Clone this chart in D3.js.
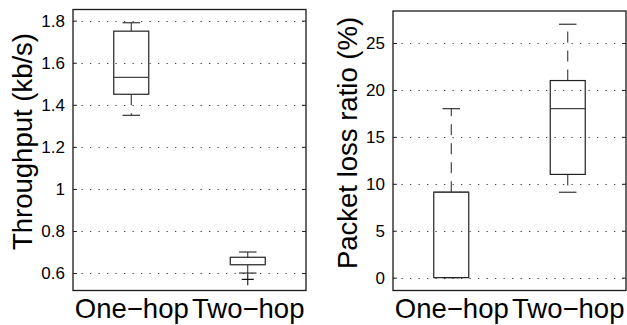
<!DOCTYPE html>
<html><head><meta charset="utf-8">
<script src="https://cdn.jsdelivr.net/npm/d3@7"></script>
<style>
html,body{margin:0;padding:0;background:#fff;}
svg{display:block;font-family:"Liberation Sans",Arial,Helvetica,sans-serif;}
</style></head>
<body>
<svg id="chart" width="627" height="325"></svg>
<script>
// ---- data ----
const categories = ["One\u2212hop", "Two\u2212hop"];

const thrTicks = [0.6, 0.8, 1, 1.2, 1.4, 1.6, 1.8];
const thrLow = [1.35, 0.60];
const thrQ1 = [1.45, 0.64];
const thrMed = [1.53, 0.64];
const thrQ3 = [1.75, 0.675];
const thrHigh = [1.79, 0.70];
const thrOutliers = [[], [0.57]];

const lossTicks = [0, 5, 10, 15, 20, 25];
const lossLow = [0, 9.1];
const lossQ1 = [0, 11];
const lossMed = [9.1, 18];
const lossQ3 = [9.1, 21];
const lossHigh = [18, 27];
const lossOutliers = [[], []];

const svg = d3.select("#chart");

function panel(opt) {
  const g = svg.append("g");
  const x = d3.scalePoint().domain(categories).range([opt.x0, opt.x1]).padding(0.5);
  const y = d3.scaleLinear().domain(opt.domain).range([opt.y1, opt.y0]);

  // grid (dotted)
  g.append("g").selectAll("line").data(opt.ticks).join("line")
    .attr("x1", opt.x0).attr("x2", opt.x1)
    .attr("y1", d => Math.round(y(d)) + 0.5).attr("y2", d => Math.round(y(d)) + 0.5)
    .attr("stroke", "#444").attr("stroke-width", 1)
    .attr("stroke-dasharray", "1.3,7.2");

  // y axis (left, inward ticks)
  const yAxis = d3.axisLeft(y).tickValues(opt.ticks).tickSizeInner(-4).tickSizeOuter(0).tickPadding(8)
    .tickFormat(d => String(+d.toFixed(1)));
  const ya = g.append("g").attr("transform", `translate(${opt.x0},0)`).call(yAxis);
  ya.select(".domain").remove();
  ya.selectAll("line").attr("stroke", "#222");
  ya.selectAll("text").attr("font-size", 17).attr("fill", "#000").attr("font-family", "Liberation Sans, Arial, sans-serif");

  // right inward ticks
  const yAxisR = d3.axisRight(y).tickValues(opt.ticks).tickSizeInner(-4).tickSizeOuter(0).tickFormat("");
  const yr = g.append("g").attr("transform", `translate(${opt.x1},0)`).call(yAxisR);
  yr.select(".domain").remove();
  yr.selectAll("line").attr("stroke", "#222");

  // x axis labels
  const xAxis = d3.axisBottom(x).tickSize(0).tickPadding(8);
  const xa = g.append("g").attr("transform", `translate(0,${opt.y1})`).call(xAxis);
  xa.select(".domain").remove();
  xa.selectAll("text").attr("font-size", 27.5).attr("fill", "#000").attr("dy", "0.71em")
    .attr("font-family", "Liberation Sans, Arial, sans-serif");

  // frame
  g.append("rect").attr("x", opt.x0).attr("y", opt.y0)
    .attr("width", opt.x1 - opt.x0).attr("height", opt.y1 - opt.y0)
    .attr("fill", "none").attr("stroke", "#1a1a1a").attr("stroke-width", 1.3);

  // y title
  g.append("text")
    .attr("transform", `translate(${opt.titleX},${opt.titleY}) rotate(-90)`)
    .attr("text-anchor", "middle").attr("font-size", 27.5).attr("fill", "#000")
    .text(opt.title);

  // boxes
  const bw = 35, cw = 17.5;
  categories.forEach((c, i) => {
    const cx = x(c);
    const bg = g.append("g");
    // whiskers (dashed)
    bg.append("line").attr("x1", cx).attr("x2", cx)
      .attr("y1", y(opt.q3[i])).attr("y2", y(opt.high[i]))
      .attr("stroke", "#222").attr("stroke-width", 1).attr("stroke-dasharray", "11,8");
    bg.append("line").attr("x1", cx).attr("x2", cx)
      .attr("y1", y(opt.q1[i])).attr("y2", y(opt.low[i]))
      .attr("stroke", "#222").attr("stroke-width", 1).attr("stroke-dasharray", "11,8");
    // caps
    [opt.high[i], opt.low[i]].forEach(v => {
      bg.append("line").attr("x1", cx - cw / 2).attr("x2", cx + cw / 2)
        .attr("y1", y(v)).attr("y2", y(v))
        .attr("stroke", "#222").attr("stroke-width", 1.1);
    });
    // box
    bg.append("rect").attr("x", cx - bw / 2).attr("y", y(opt.q3[i]))
      .attr("width", bw).attr("height", Math.max(0.01, y(opt.q1[i]) - y(opt.q3[i])))
      .attr("fill", "none").attr("stroke", "#222").attr("stroke-width", 1.2);
    // median
    bg.append("line").attr("x1", cx - bw / 2).attr("x2", cx + bw / 2)
      .attr("y1", y(opt.med[i])).attr("y2", y(opt.med[i]))
      .attr("stroke", "#444").attr("stroke-width", 1.3);
    // outliers (+)
    opt.outliers[i].forEach(v => {
      const py = y(v);
      bg.append("path").attr("d", `M${cx - 6},${py}H${cx + 6}M${cx},${py - 6}V${py + 6}`)
        .attr("stroke", "#111").attr("stroke-width", 1.1).attr("fill", "none");
    });
  });
}

panel({
  x0: 73, x1: 306, y0: 9.5, y1: 290.5,
  domain: [0.517, 1.853], ticks: thrTicks,
  low: thrLow, q1: thrQ1, med: thrMed, q3: thrQ3, high: thrHigh, outliers: thrOutliers,
  title: "Throughput (kb/s)", titleX: 32, titleY: 141.5
});

panel({
  x0: 393, x1: 626, y0: 11, y1: 290.5,
  domain: [-1.37, 28.41], ticks: lossTicks,
  low: lossLow, q1: lossQ1, med: lossMed, q3: lossQ3, high: lossHigh, outliers: lossOutliers,
  title: "Packet loss ratio (%)", titleX: 357, titleY: 143
});
</script>
</body></html>
